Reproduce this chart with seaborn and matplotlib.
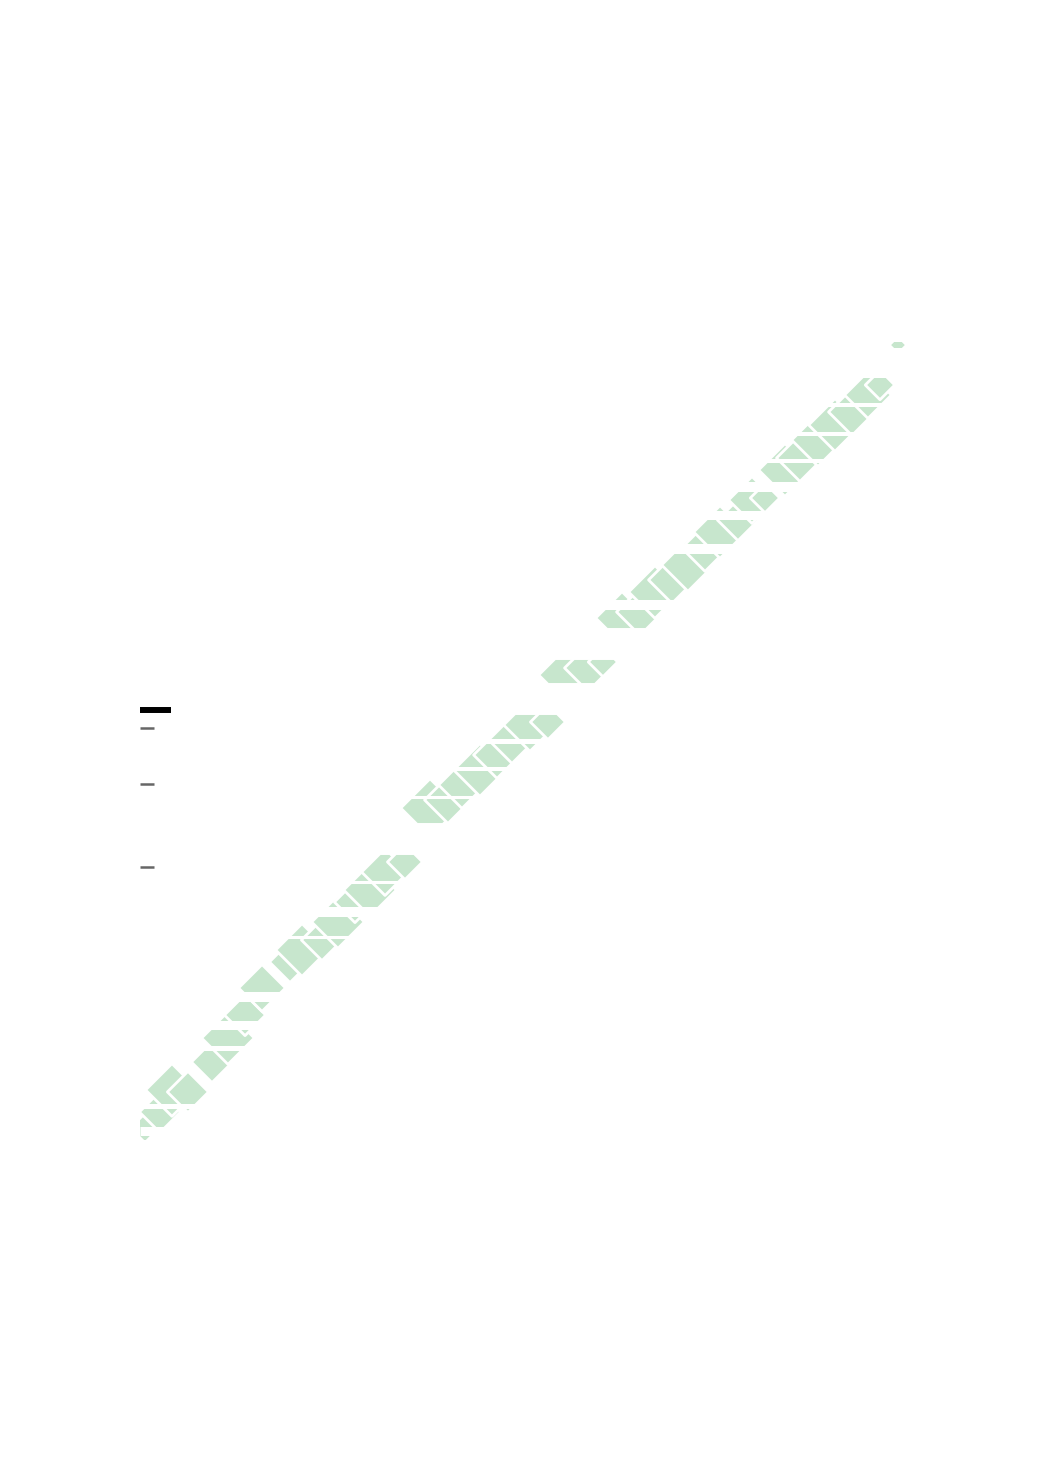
import pandas as pd
import seaborn as sns
import matplotlib.pyplot as plt

# values (data units, both axes 0-100)
pt_x = [0.65, 2.61, 4.18, 6.27, 9.41, 11.5, 13.73, 15.95, 19.61, 21.18,
        23.79, 25.88, 28.1, 30.07, 32.03, 34.64, 37.91, 40.26, 42.09, 44.44,
        46.67, 48.63, 50.98, 53.33, 55.56, 58.56, 60.52, 63.01, 65.36, 67.32,
        69.54, 71.63, 73.86, 75.82, 78.17, 80.0, 81.7, 84.31, 86.27, 88.63,
        90.85, 93.07, 95.16, 96.73, 99.08]
pt_y = [1.5, 3.51, 6.27, 6.02, 9.77, 12.78, 15.66, 19.05, 22.31, 23.81,
        25.06, 27.32, 29.82, 31.33, 33.58, 34.84, 41.6, 42.61, 44.49, 46.37,
        48.25, 50.13, 52.01, 52.38, 58.27, 59.15, 59.9, 65.41, 66.17, 68.67,
        70.18, 72.06, 74.19, 76.19, 77.69, 80.2, 80.45, 83.96, 85.46, 87.72,
        89.6, 91.23, 93.36, 94.61, 99.62]
pt_w = [25, 35, 45, 35, 35, 45, 35, 40, 35, 45,
        35, 45, 35, 45, 40, 30, 50, 40, 40, 45,
        40, 40, 45, 30, 45, 40, 25, 45, 40, 45,
        40, 45, 40, 45, 35, 40, 25, 45, 40, 45,
        45, 40, 40, 25, 15]

# horizontal white breaks in the band
gap_y = [97.37, 92.11, 88.47, 85.09, 81.83, 78.26, 74.06, 67.04, 62.16,
         55.26, 49.94, 46.49, 42.92, 37.72, 32.39, 28.57, 25.5, 17.92,
         14.47, 11.47, 4.32, 1.19]
gap_lw = [21.6, 2.9, 2.9, 2.9, 7.2, 6.5, 7.2, 7.2, 23.0,
          23.0, 3.6, 2.9, 2.2, 23.0, 2.2, 7.2, 2.2, 7.2,
          6.5, 3.6, 3.6, 6.5]

rug_y = [51.6, 44.6, 34.25]
bar_y = [53.9]

df = pd.DataFrame({"x": pt_x, "y": pt_y, "w": pt_w})
size_map = {15: 80, 25: 225, 30: 320, 35: 440, 40: 570, 45: 720, 50: 890}

sns.set_style("white")
fig = plt.figure(figsize=(10.41, 14.72), dpi=100)
ax = fig.add_axes([140 / 1041, 332 / 1472, 765 / 1041, 798 / 1472])

sns.scatterplot(
    data=df, x="x", y="y", size="w", sizes=size_map,
    marker="D", color="#c7e6cd", edgecolor="white",
    linewidth=2, alpha=1, legend=False, ax=ax
)
ax.hlines(gap_y, 0, 100, colors="white", linewidths=gap_lw, zorder=3)

sns.rugplot(y=rug_y, height=0.018, color="#666666", linewidth=1.8, zorder=4, ax=ax)
sns.rugplot(y=bar_y, height=0.04, color="black", linewidth=4.3, zorder=4, ax=ax)

ax.set_xlim(0, 100)
ax.set_ylim(0, 100)
ax.set_axis_off()

fig.savefig("out.png", dpi=100)
